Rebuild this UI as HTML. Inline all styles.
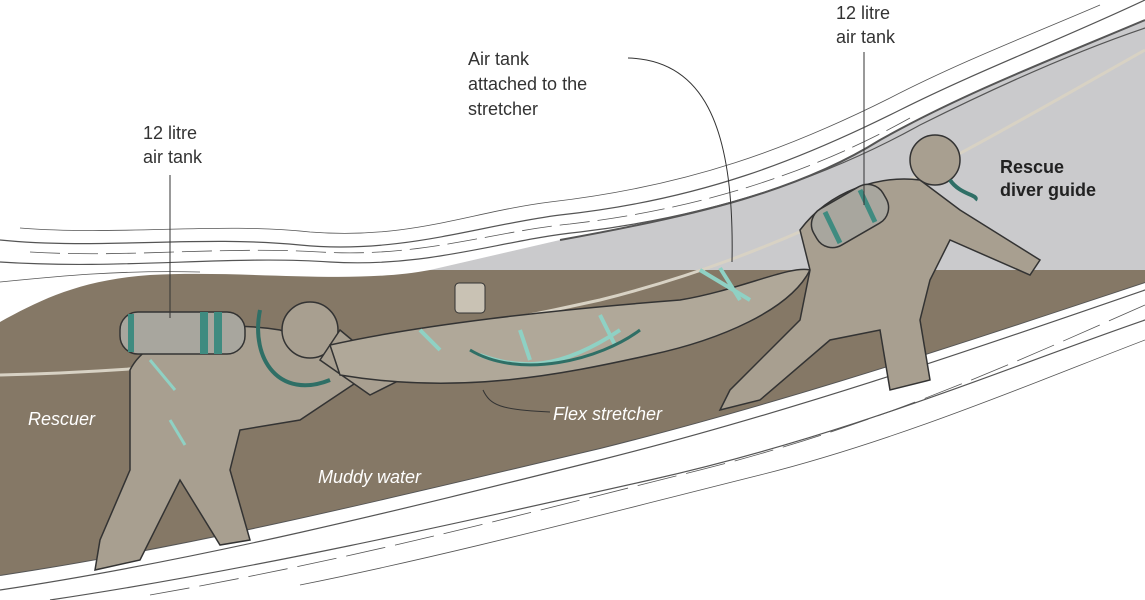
<!DOCTYPE html>
<html><head><meta charset="utf-8"><style>
html,body{margin:0;padding:0;background:#fff;}
svg{display:block;}
text{font-family:"Liberation Sans",sans-serif;}
</style></head><body>
<svg width="1145" height="600" viewBox="0 0 1145 600" xmlns="http://www.w3.org/2000/svg">
<rect width="1145" height="600" fill="#fff"/>
<path d="M560,240 C700,215 800,190 880,140 C960,95 1050,60 1145,20 L1145,270 L430,270 Z" fill="#cacacc"/>
<g fill="none" stroke="#555" stroke-width="1.2">
<path d="M0,240 C100,250 200,235 300,245 C400,255 480,225 560,215 C700,200 800,160 900,110 C980,70 1060,40 1145,0"/>
<path d="M0,262 C120,270 230,255 330,262 C430,268 500,240 580,232 C720,215 830,175 920,125 C1000,85 1080,50 1145,28"/>
<path d="M20,228 C120,236 220,222 310,232 C410,240 470,212 550,202 C690,186 790,148 890,98 C960,62 1030,35 1100,5" stroke-width="0.8"/>
<path d="M30,252 C130,258 220,246 320,252 C420,258 490,232 570,224 C710,208 820,168 910,118" stroke-width="0.8" stroke-dasharray="30 8"/>
<path d="M0,282 C60,276 120,270 200,272" stroke-width="0.8"/>
<path d="M560,240 C700,215 800,190 880,140 C960,95 1050,60 1145,20" stroke-width="2"/>
<path d="M0,590 C200,560 400,510 600,460 C800,410 1000,340 1145,290"/>
<path d="M0,575 C200,545 400,495 600,448 C800,398 1000,330 1145,282" stroke-width="2"/>
<path d="M50,600 C250,570 450,525 650,480 C850,435 1000,370 1145,320"/>
<path d="M150,595 C350,560 500,520 700,470 C880,425 1020,360 1145,305" stroke-width="0.8" stroke-dasharray="40 10"/>
<path d="M300,585 C450,555 600,515 760,475 C900,440 1040,380 1145,340" stroke-width="0.8"/>
</g>
<path d="M0,322 C40,300 80,280 150,275 C250,270 350,285 430,270 L1145,270 L1145,282 C1000,330 800,398 600,448 C400,495 200,545 0,575 Z" fill="#857866"/>
<path d="M0,375 C200,370 400,345 600,300 C800,250 950,160 1145,50" fill="none" stroke="#d8d2c4" stroke-width="3"/>
<g fill="#a89f90" stroke="#333" stroke-width="1.5">
<path d="M130,370 C150,330 220,320 280,330 L330,350 L360,380 L300,420 L240,430 L230,470 L250,540 L220,545 L180,480 L140,560 L95,570 L100,540 L130,470 Z"/>
<circle cx="310" cy="330" r="28"/>
<path d="M340,330 L400,380 L370,395 L320,360 Z"/>
</g>
<g fill="#a8a69e" stroke="#333" stroke-width="1.5">
<rect x="120" y="312" width="125" height="42" rx="18"/>
</g>
<g fill="#3f8b80"><rect x="128" y="314" width="6" height="38"/><rect x="200" y="312" width="8" height="42"/><rect x="214" y="312" width="8" height="42"/></g>
<path d="M260,310 C250,360 280,400 330,380" fill="none" stroke="#2f6f66" stroke-width="4"/>
<path d="M150,360 L175,390 M170,420 L185,445" fill="none" stroke="#8fd1c4" stroke-width="3"/>
<g fill="#b0a899" stroke="#333" stroke-width="1.5">
<path d="M330,345 C420,325 550,310 680,300 C740,290 790,265 810,270 C790,310 720,340 650,355 C560,375 460,395 340,375 Z"/>
</g>
<path d="M480,355 C520,370 560,370 620,330 M420,330 L440,350 M520,330 L530,360 M600,315 L615,345 M700,270 L750,300 M720,268 L740,300" fill="none" stroke="#8fd1c4" stroke-width="4"/>
<path d="M470,350 C520,380 600,360 640,330" fill="none" stroke="#2f6f66" stroke-width="3"/>
<rect x="455" y="283" width="30" height="30" rx="4" fill="#c9c2b4" stroke="#333"/>
<g fill="#a89f90" stroke="#333" stroke-width="1.5">
<path d="M800,230 C830,190 880,175 920,180 L960,210 L1040,260 L1030,275 L950,240 L930,280 L920,320 L930,380 L890,390 L880,330 L830,340 L760,400 L720,410 L730,390 L800,320 L810,270 Z"/>
<circle cx="935" cy="160" r="25"/>
</g>
<g fill="#a8a69e" stroke="#333" stroke-width="1.5">
<rect x="810" y="195" width="80" height="42" rx="18" transform="rotate(-30 850 216)"/>
</g>
<path d="M860,190 L875,222 M825,212 L840,243" stroke="#3f8b80" stroke-width="5"/>
<path d="M950,180 C960,195 980,195 975,200" fill="none" stroke="#2f6f66" stroke-width="4"/>
<g fill="none" stroke="#333" stroke-width="1">
<line x1="170" y1="175" x2="170" y2="318"/>
<line x1="864" y1="52" x2="864" y2="205"/>
<path d="M628,58 C700,60 735,120 732,262"/>
<path d="M483,390 C490,405 500,410 550,412"/>
</g>
<g font-size="18" fill="#333">
<text x="143" y="139">12 litre</text><text x="143" y="163">air tank</text>
<text x="836" y="19">12 litre</text><text x="836" y="43">air tank</text>
<text x="468" y="65">Air tank</text><text x="468" y="90">attached to the</text><text x="468" y="115">stretcher</text>
<text x="1000" y="173" font-weight="bold" fill="#222">Rescue</text><text x="1000" y="196" font-weight="bold" fill="#222">diver guide</text>
</g>
<g font-size="18" fill="#fff" font-style="italic">
<text x="28" y="425">Rescuer</text>
<text x="318" y="483">Muddy water</text>
<text x="553" y="420">Flex stretcher</text>
</g>
</svg>
</body></html>
